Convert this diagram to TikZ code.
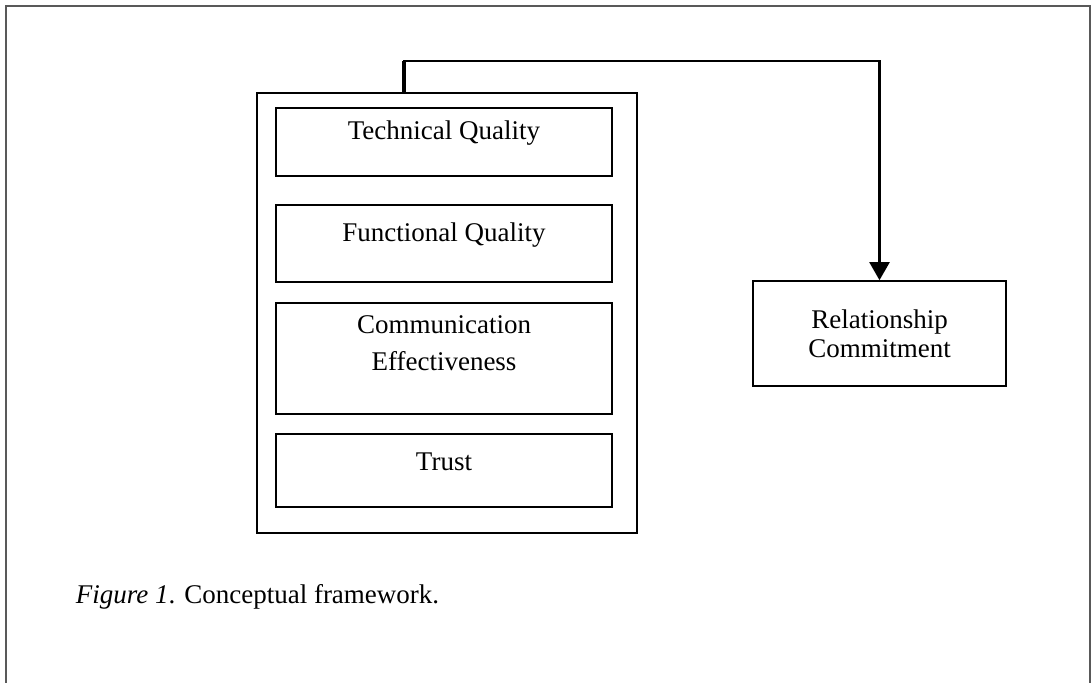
\documentclass[tikz,border=0pt]{standalone}
\usepackage{fontspec}
\setmainfont{Liberation Serif}
\usetikzlibrary{arrows.meta}

\begin{document}
\begin{tikzpicture}
[x=1pt,y=-1pt,>={Triangle[length=9pt,width=10pt]},
                    thick,main node/.style={rectangle,draw,minimum width=168pt,inner sep=0pt},
                    group node/.style={rectangle,draw,minimum width=190pt,minimum height=220pt},
                    txt/.style={anchor=north,inner sep=0pt,align=center,font=\fontsize{13.5}{16}\selectfont}]

  \useasboundingbox (0,0) rectangle (546,341.5);
  \draw[black!65,line width=0.8pt] (3,341.5) -- (3,3) -- (545,3) -- (545,341.5);

  \node[group node] (grp) at (223.5,156.5) {};
  \node[main node,minimum height=34pt,label={[txt,yshift=-6.5pt]north:Technical Quality}] (1) at (222,71) {};
  \node[main node,minimum height=38.5pt,node distance=50.75pt,label={[txt,yshift=-9pt]north:Functional Quality}] (2) [below of=1] {};
  \node[main node,minimum height=55.5pt,node distance=57.5pt,label={[txt,yshift=-6.5pt]north:Communication\\[2.5pt]Effectiveness}] (3) [below of=2] {};
  \node[main node,minimum height=36.5pt,node distance=56pt,label={[txt,yshift=-9.5pt]north:Trust}] (4) [below of=3] {};

  \node[rectangle,draw,minimum width=126.5pt,minimum height=52.5pt,align=center,font=\fontsize{13.5}{14.5}\selectfont] (rc) at (439.75,166.75) {Relationship\\Commitment};

  \coordinate (top) at (439.75,30.5);
  \draw[->,line width=1.1pt] ([xshift=-21.5pt]grp.north) |- (top) -- (rc.north);
  \draw[line width=2pt] ([xshift=-21.5pt]grp.north) -- ([xshift=-21.5pt]grp.north |- top);

  \node[anchor=west,inner sep=0pt,font=\fontsize{13.5}{16}\selectfont] (cap) at (37.5,298.5) {\textit{Figure 1}. Conceptual framework.};
\end{tikzpicture}
\end{document}
